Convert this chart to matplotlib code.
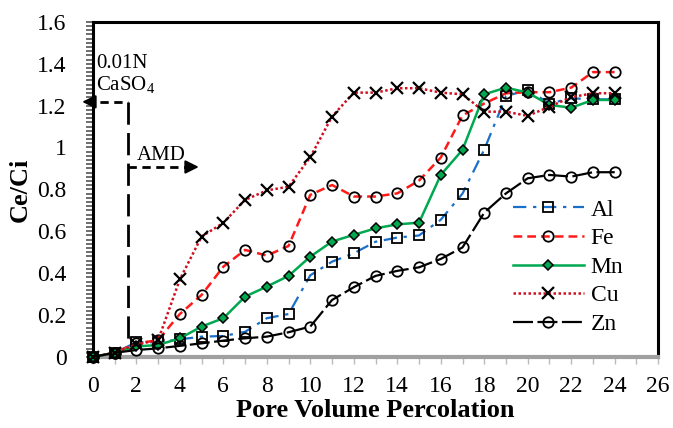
import matplotlib
matplotlib.use("Agg")
import matplotlib.pyplot as plt
import numpy as np
from matplotlib.ticker import MultipleLocator

plt.rcParams["font.family"] = ["Liberation Serif", "DejaVu Serif"]
plt.rcParams["mathtext.fontset"] = "custom"
plt.rcParams["mathtext.rm"] = "Liberation Serif"

# pore volumes
pv = list(range(25))

al = [0, 0.02, 0.07, 0.07, 0.084, 0.097, 0.10, 0.12, 0.185, 0.205, 0.39, 0.455, 0.495,
      0.55, 0.57, 0.58, 0.655, 0.78, 0.99, 1.245, 1.275, 1.21, 1.235, 1.23, 1.23]
fe = [0, 0.02, 0.065, 0.08, 0.205, 0.296, 0.431, 0.511, 0.484, 0.53, 0.774, 0.821, 0.766,
      0.766, 0.781, 0.842, 0.952, 1.153, 1.21, 1.259, 1.264, 1.264, 1.286, 1.36, 1.36]
mn = [0, 0.02, 0.05, 0.057, 0.089, 0.145, 0.185, 0.288, 0.336, 0.387, 0.479, 0.551, 0.583,
      0.614, 0.633, 0.641, 0.869, 0.989, 1.254, 1.286, 1.262, 1.203, 1.19, 1.227, 1.227]
cu = [0, 0.02, 0.06, 0.08, 0.37, 0.575, 0.64, 0.75, 0.795, 0.813, 0.954, 1.148, 1.262,
      1.262, 1.283, 1.283, 1.262, 1.254, 1.171, 1.171, 1.151, 1.195, 1.24, 1.259, 1.259]
zn = [0, 0.02, 0.033, 0.041, 0.053, 0.065, 0.078, 0.089, 0.097, 0.118, 0.145, 0.272, 0.333,
      0.387, 0.411, 0.428, 0.468, 0.523, 0.689, 0.781, 0.853, 0.869, 0.861, 0.882, 0.882]

fig = plt.figure(figsize=(6.73, 4.28), dpi=100)
ax = fig.add_axes([0.138, 0.166, 0.84, 0.783])

common = dict(clip_on=False, zorder=3)
ax.plot(pv, al, color="#1a6fc9", lw=1.6, ls=(0, (6, 3, 1.5, 3)), marker="s", ms=7,
        mfc="none", mec="black", mew=1.3, label="Al", **common)
ax.plot(pv, fe, color="#ff1a1a", lw=1.8, ls=(0, (3.5, 2)), marker="o", ms=7.5,
        mfc="none", mec="black", mew=1.3, label="Fe", **common)
ax.plot(pv, mn, color="#00a84f", lw=1.8, ls="-", marker="D", ms=5.5,
        mfc="#00a84f", mec="black", mew=1.1, label="Mn", **common)
ax.plot(pv, cu, color="#d01020", lw=1.8, ls=(0, (1, 1)), marker="x", ms=8,
        mec="black", mew=1.6, label="Cu", **common)
ax.plot(pv, zn, color="black", lw=1.6, ls=(0, (9, 2)), marker="o", ms=7.5,
        mfc="none", mec="black", mew=1.3, label="Zn", **common)

ax.set_xlim(0, 26)
ax.set_ylim(0, 1.6)
ax.xaxis.set_major_locator(MultipleLocator(2))
ax.xaxis.set_minor_locator(MultipleLocator(1))
ax.yaxis.set_minor_locator(MultipleLocator(0.02))
ax.set_yticks(np.arange(0, 1.61, 0.2))
ax.set_yticklabels(["0", "0.2", "0.4", "0.6", "0.8", "1", "1.2", "1.4", "1.6"])

ax.tick_params(axis="both", labelsize=17)
ax.tick_params(axis="y", which="both", direction="out", length=5, width=1.2,
               color="#555555", pad=14)
ax.tick_params(axis="x", which="both", direction="out", length=5, width=1,
               color="#bbbbbb", pad=8.5)

for side in ["left", "top", "right"]:
    ax.spines[side].set_linewidth(2.2)
    ax.spines[side].set_color("black")
ax.spines["bottom"].set_color("#a0a0a0")
ax.spines["bottom"].set_linewidth(3)

ax.set_xlabel("Pore Volume Percolation", fontsize=19, fontweight="bold", labelpad=2)
ax.set_ylabel("Ce/Ci", fontsize=19, fontweight="bold", labelpad=4)

# CaSO4 / AMD annotations
ax.plot([-0.3, 1.6], [1.218, 1.218], color="black", lw=2, ls=(0, (3, 2)), clip_on=False)
ax.plot([1.6, 1.6], [1.218, 0.06], color="black", lw=2, ls=(0, (8, 3)))
ax.plot([1.6, 4.4], [0.907, 0.907], color="black", lw=2, ls=(0, (3, 2)))
ax.annotate("", xy=(-0.62, 1.218), xytext=(-0.1, 1.218),
            arrowprops=dict(arrowstyle="-|>", color="black", lw=1.5, mutation_scale=20),
            annotation_clip=False)
ax.annotate("", xy=(5.0, 0.907), xytext=(4.4, 0.907),
            arrowprops=dict(arrowstyle="-|>", color="black", lw=1.5, mutation_scale=20))
ax.text(0.15, 1.445, "0.01N\nCaSO$_4$", fontsize=15, va="top", ha="left", linespacing=1.1)
ax.text(2.0, 0.915, "AMD", fontsize=15, va="bottom", ha="left")

leg = ax.legend(loc="center left", bbox_to_anchor=(0.762, 0.376), bbox_transform=fig.transFigure,
                frameon=False, fontsize=17, handlelength=3.0, handletextpad=0.3,
                labelspacing=0.3, borderpad=0, borderaxespad=0)

fig.savefig("out.png", dpi=100)
